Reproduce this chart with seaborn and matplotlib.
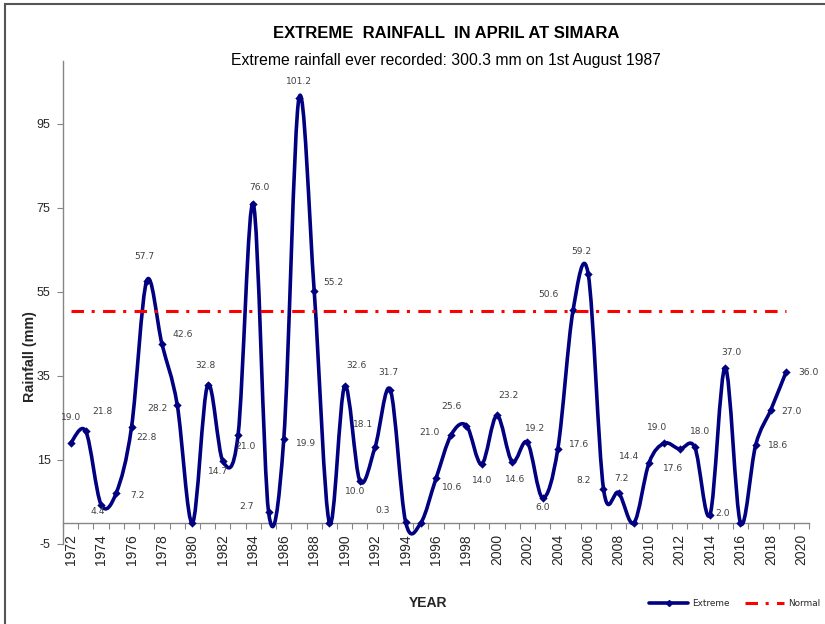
import numpy as np
import pandas as pd
import matplotlib
matplotlib.use("Agg")
import matplotlib.pyplot as plt
import seaborn as sns
from matplotlib.path import Path
from matplotlib.patches import PathPatch, Rectangle
from matplotlib.lines import Line2D

# ---------------- data ----------------
years = list(range(1972, 2020))
extreme = [19.0, 21.8, 4.4, 7.2, 22.8, 57.7, 42.6, 28.2, 0.0, 32.8,
           14.7, 21.0, 76.0, 2.7, 19.9, 101.2, 55.2, 0.0, 32.6, 10.0,
           18.1, 31.7, 0.3, 0.0, 10.6, 21.0, 23.2, 14.0, 25.6, 14.6,
           19.2, 6.0, 17.6, 50.6, 59.2, 8.2, 7.2, 0.0, 14.4, 19.0,
           17.6, 18.0, 2.0, 37.0, 0.0, 18.6, 27.0, 36.0]
normal_value = 50.5
xtick_years = list(range(1972, 2021, 2))
ytick_values = [-5, 15, 35, 55, 75, 95]

title = "EXTREME  RAINFALL  IN APRIL AT SIMARA"
subtitle = "Extreme rainfall ever recorded: 300.3 mm on 1st August 1987"

# label offsets (pixels: right, down) for each data label
label_offsets = [(0, -26), (17, -20), (-3, 7), (21, 3), (15, 10), (-2, -24), (21, -10),
                 (-20, 4), (0, 0), (-2, -20), (-5, 10), (7, 12), (6, -16), (-22, -5),
                 (22, 4), (0, -16), (19, -9), (0, 0), (12, -21), (-5, 10), (-12, -22),
                 (-2, -17), (-23, -11), (0, 0), (16, 9), (-22, -2), (42, -30), (0, 16),
                 (-45, -9), (3, 18), (8, -14), (0, 10), (21, -5), (-25, -16), (-7, -23),
                 (-20, -8), (3, -14), (0, 0), (-20, -6), (-7, -16), (-6, 19), (5, -16),
                 (13, -1), (6, -15), (0, 0), (22, 1), (21, 2), (22, 1)]

df = pd.DataFrame({"Year": years, "Extreme": extreme})
df["Normal"] = normal_value

NAVY = "#000080"
RED = "#FF0000"
AXIS_GRAY = "#868686"
DASHES = [9.0, 5.5, 2.2, 6.0]   # points, unscaled

sns.set_style("white")
plt.rcParams["font.family"] = ["Liberation Sans", "DejaVu Sans"]
plt.rcParams["lines.scale_dashes"] = False

fig = plt.figure(figsize=(8.25, 6.24), dpi=100)
ax = fig.add_axes([63 / 825, 80 / 624, (809 - 63) / 825, (544 - 61) / 624])

# ---- smoothed line (Catmull-Rom style Bezier, like Excel "smoothed line") ----
pts = np.column_stack([df["Year"].to_numpy(float), df["Extreme"].to_numpy(float)])
n = len(pts)
verts = [tuple(pts[0])]
codes = [Path.MOVETO]
for i in range(n - 1):
    p0 = pts[i - 1] if i > 0 else pts[i]
    p1 = pts[i]
    p2 = pts[i + 1]
    p3 = pts[i + 2] if i + 2 < n else pts[i + 1]
    c1 = p1 + (p2 - p0) / 6.0
    c2 = p2 - (p3 - p1) / 6.0
    verts += [tuple(c1), tuple(c2), tuple(p2)]
    codes += [Path.CURVE4] * 3
patch = PathPatch(Path(verts, codes), facecolor="none", edgecolor=NAVY,
                  lw=2.6, zorder=3, capstyle="round", joinstyle="round")
ax.add_patch(patch)

sns.scatterplot(data=df, x="Year", y="Extreme", marker="D", s=18, color=NAVY,
                edgecolor=NAVY, linewidth=0, ax=ax, zorder=4, legend=False)

# ---- normal line ----
sns.lineplot(data=df, x="Year", y="Normal", color=RED, lw=2.2, ax=ax, zorder=5,
             legend=False)
normal_line = ax.lines[-1]
normal_line.set_dashes(DASHES)
normal_line.set_dash_capstyle("butt")

# ---- data labels ----
for yr, v, (dx, dy) in zip(years, extreme, label_offsets):
    if v == 0:
        continue
    ax.annotate(f"{v:.1f}", xy=(yr, v), xytext=(dx * 0.72, -dy * 0.72),
                textcoords="offset points", ha="center", va="center",
                fontsize=6.6, color="#404040", family="DejaVu Sans", zorder=6)

# ---- axes styling ----
ax.set_xlim(1971.5, 2020.5)
ax.set_ylim(-5, 110)
ax.set_xlabel("")
ax.set_ylabel("")
ax.set_yticks(ytick_values)
ax.set_yticklabels([str(t) for t in ytick_values], fontsize=9)
ax.set_xticks(xtick_years)
ax.set_xticklabels([str(t) for t in xtick_years], fontsize=8.8)
ax.set_xticks(np.arange(1971.5, 2021.0, 1.0), minor=True)
ax.tick_params(axis="x", which="major", length=0, pad=8, labelrotation=90)
ax.tick_params(axis="x", which="minor", length=4, width=0.8, color=AXIS_GRAY,
               direction="out", bottom=True)
ax.tick_params(axis="y", which="major", length=4, width=0.8, color=AXIS_GRAY,
               direction="out", pad=5, left=True)
for lbl in ax.get_xticklabels():
    lbl.set_rotation(90)
    lbl.set_va("top")
    lbl.set_ha("center")
ax.spines["top"].set_visible(False)
ax.spines["right"].set_visible(False)
ax.spines["bottom"].set_position(("data", 0))
for s in ("left", "bottom"):
    ax.spines[s].set_color(AXIS_GRAY)
    ax.spines[s].set_linewidth(1.0)
ax.grid(False)
ax.set_facecolor("none")

# ---- texts ----
fig.text(446 / 825, 1 - 33 / 624, title, ha="center", va="center",
         fontsize=12, fontweight="bold", color="black")
fig.text(446 / 825, 1 - 60 / 624, subtitle, ha="center", va="center",
         fontsize=11.3, color="black")
fig.text(30 / 825, 1 - 357 / 624, "Rainfall (mm)", rotation=90, ha="center",
         va="center", fontsize=10.3, fontweight="bold")
fig.text(428 / 825, 1 - 603 / 624, "YEAR", ha="center", va="center",
         fontsize=10, fontweight="bold")

# ---- legend ----
handles = [Line2D([], [], color=NAVY, lw=2.6, marker="D", markersize=3),
           Line2D([], [], color=RED, lw=2.2, dashes=DASHES)]
leg = fig.legend(handles, ["Extreme", "Normal"], loc="center right",
                 bbox_to_anchor=(820 / 825, 1 - 604 / 624), ncol=2,
                 frameon=False, handlelength=4.4,
                 handletextpad=0.4, columnspacing=1.8, borderpad=0,
                 borderaxespad=0, prop={"family": "DejaVu Sans", "size": 6.4})

# ---- chart border ----
fig.add_artist(Rectangle((5 / 825, -0.1), 2, 1 - 4 / 624 + 0.1, fill=False,
                         edgecolor="#555555", lw=1.5, transform=fig.transFigure))

fig.savefig("out.png", dpi=100)
